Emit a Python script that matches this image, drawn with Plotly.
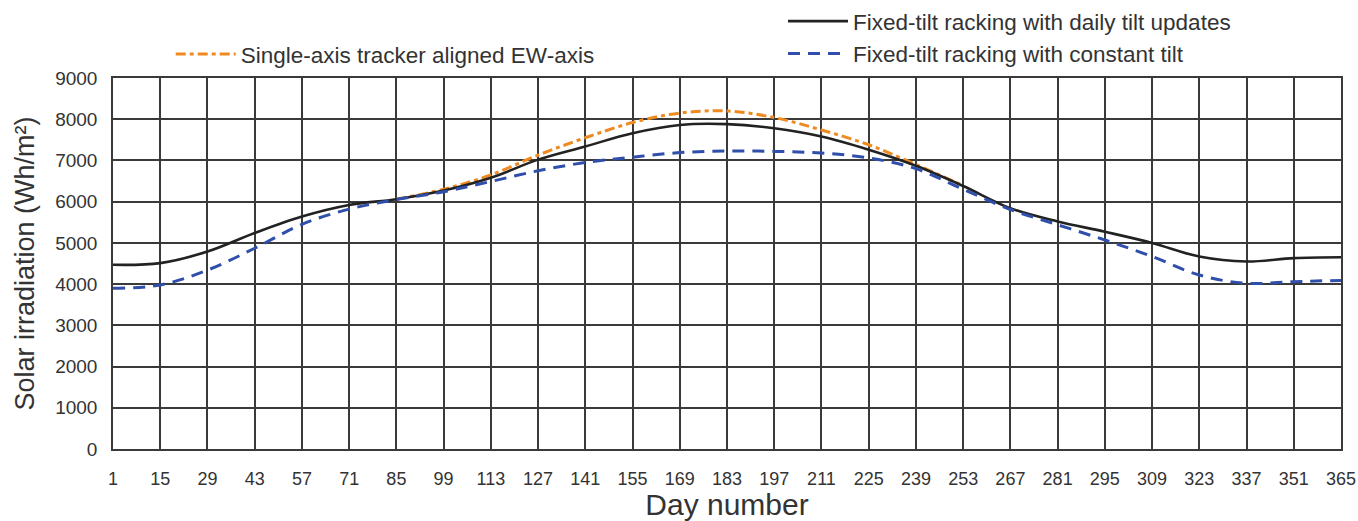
import plotly.graph_objects as go

days = [1, 15, 29, 43, 57, 71, 85, 99, 113, 127, 141, 155, 169, 183, 197, 211, 225, 239, 253, 267, 281, 295, 309, 323, 337, 351, 365]
daily_tilt = [4470, 4510, 4790, 5240, 5640, 5920, 6060, 6270, 6580, 7020, 7340, 7660, 7860, 7880, 7780, 7580, 7260, 6870, 6380, 5840, 5520, 5270, 5000, 4670, 4550, 4630, 4650]
constant_tilt = [3900, 3980, 4340, 4870, 5450, 5820, 6050, 6240, 6490, 6750, 6950, 7080, 7190, 7230, 7220, 7180, 7060, 6800, 6300, 5810, 5440, 5070, 4670, 4220, 4020, 4060, 4090]
tracker_days = [85, 99, 113, 127, 141, 155, 169, 183, 197, 211, 225, 239, 253]
tracker = [6060, 6300, 6650, 7130, 7550, 7920, 8150, 8200, 8040, 7740, 7380, 6900, 6390]
tick_labels = [str(d) for d in days]

FONT = "Liberation Sans, Arial, sans-serif"
TXT = "#333333"
GRID = "#3a3a3a"

fig = go.Figure()
fig.add_trace(go.Scatter(
    x=tracker_days, y=tracker, mode="lines", name="Single-axis tracker aligned EW-axis",
    line=dict(color="#EE8A1F", width=3, dash="10px,4px,4px,4px", shape="spline"),
    legend="legend", legendgroup="a", showlegend=True))
fig.add_trace(go.Scatter(
    x=days, y=daily_tilt, mode="lines", name="Fixed-tilt racking with daily tilt updates",
    line=dict(color="#222222", width=2.6, shape="spline"), legend="legend2",
    legendgroup="b", showlegend=True))
fig.add_trace(go.Scatter(
    x=days, y=constant_tilt, mode="lines", name="Fixed-tilt racking with constant tilt",
    line=dict(color="#2F4FAA", width=3, dash="12px,8px", shape="spline"), legend="legend2",
    legendgroup="c", showlegend=True))

fig.update_layout(
    width=1358, height=521,
    showlegend=True,
    margin=dict(l=113, r=17, t=78, b=72, autoexpand=False),
    paper_bgcolor="white", plot_bgcolor="white",
    font=dict(family=FONT, color=TXT, size=19),
    legend=dict(x=0.047, y=0.937, xanchor="left", yanchor="top", yref="container",
                font=dict(family=FONT, size=22.5, color=TXT), bgcolor="rgba(0,0,0,0)",
                itemwidth=60),
    legend2=dict(x=0.5456, y=1.0, xanchor="left", yanchor="top", yref="container",
                 font=dict(family=FONT, size=22.5, color=TXT), bgcolor="rgba(0,0,0,0)",
                 itemwidth=60, tracegroupgap=0),
    xaxis=dict(range=[1, 365], tickmode="array", tickvals=days, ticktext=tick_labels,
               automargin=False,
               showgrid=True, gridcolor=GRID, gridwidth=1.5, zeroline=False,
               showline=True, linecolor=GRID, linewidth=1.5, mirror=True,
               ticks="outside", ticklen=13, tickcolor="rgba(0,0,0,0)",
               tickfont=dict(size=18, color=TXT),
               title=dict(text="Day number", font=dict(size=30, color=TXT), standoff=13)),
    yaxis=dict(range=[0, 9000], dtick=1000, tick0=0, automargin=False,
               showgrid=True, gridcolor=GRID, gridwidth=1.5, zeroline=False,
               showline=True, linecolor=GRID, linewidth=1.5, mirror=True,
               ticks="outside", ticklen=10, tickcolor="rgba(0,0,0,0)",
               tickfont=dict(size=19, color=TXT),
               title=dict(text="Solar irradiation (Wh/m²)", font=dict(size=27, color=TXT), standoff=13)),
)

fig.write_html("out.html")
